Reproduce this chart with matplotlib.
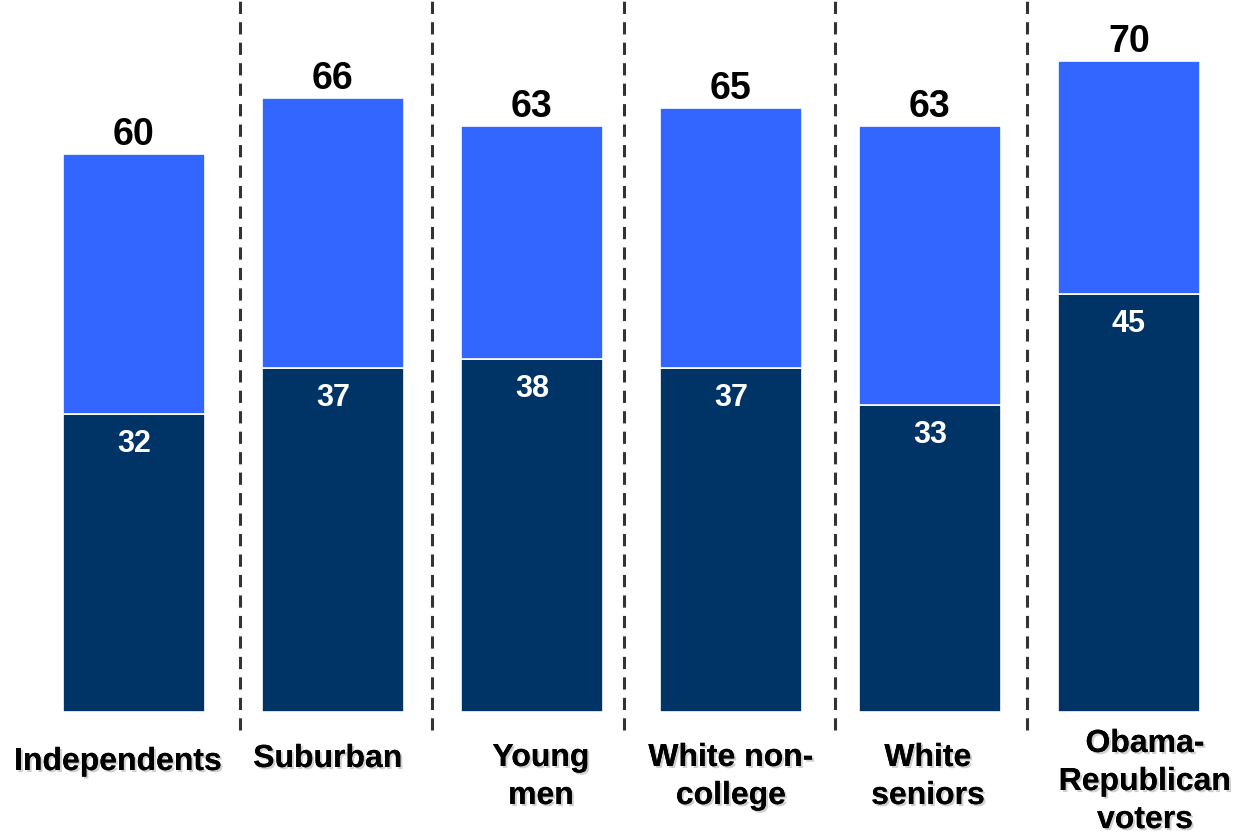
import matplotlib
matplotlib.use("Agg")
import matplotlib.pyplot as plt
import matplotlib.patheffects as pe

# ---- data ----
categories = ["Independents", "Suburban", "Young\nmen", "White non-\ncollege", "White\nseniors", "Obama-\nRepublican\nvoters"]
bottom_vals = [32, 37, 38, 37, 33, 45]
totals = [60, 66, 63, 65, 63, 70]

# ---- layout / style ----
DARK = "#003366"
BLUE = "#3366FF"
PX_PER_PT = 100 / 72.0

fig = plt.figure(figsize=(12.44, 8.32), dpi=100)
ax = fig.add_axes([0, 120 / 832, 1, 712 / 832])
ax.set_xlim(-0.673, 5.578)
ax.set_ylim(0, 76.56)
ax.axis("off")

x = list(range(len(categories)))
tops = [t - b for t, b in zip(totals, bottom_vals)]
width = 0.714

ax.bar(x, bottom_vals, width=width, color=DARK, edgecolor="white", linewidth=1.2)
ax.bar(x, tops, bottom=bottom_vals, width=width, color=BLUE, edgecolor="white", linewidth=1.2)

font = "Liberation Sans"

def pt(px):
    return px / PX_PER_PT

for xi, t, b in zip(x, totals, bottom_vals):
    ax.annotate(str(t), xy=(xi, t), xytext=(0, pt(9)), textcoords="offset points",
                ha="center", va="baseline", fontsize=27, fontweight="bold",
                family=font, color="black")
    ax.annotate(str(b), xy=(xi, b), xytext=(0, pt(-30)), textcoords="offset points",
                ha="center", va="center", fontsize=22, fontweight="bold",
                family=font, color="white")

# separators
sep_x = [0.533, 1.497, 2.462, 3.523, 4.487]
for sx in sep_x:
    ax.plot([sx, sx], [-1.95, 76.56], linestyle=(0, (4, 2.7)), linewidth=2.2,
            color="#333333", clip_on=False)

# category labels
lab_dx = [-16, -5, 9, 0, -2, 16]
lab_y = [762, 759, 777, 777, 777, 782]
shadow = [pe.withSimplePatchShadow(offset=(1.5, -1.5), shadow_rgbFace="#aaaaaa", alpha=0.55), pe.Normal()]
for xi, cat, dx, ly in zip(x, categories, lab_dx, lab_y):
    ax.annotate(cat, xy=(xi, 0), xytext=(pt(dx), pt(-(ly - 712))), textcoords="offset points",
                ha="center", va="center", fontsize=23, fontweight="bold",
                family=font, color="black", linespacing=1.35, annotation_clip=False,
                path_effects=shadow, multialignment="center")

fig.savefig("out.png", dpi=100)
